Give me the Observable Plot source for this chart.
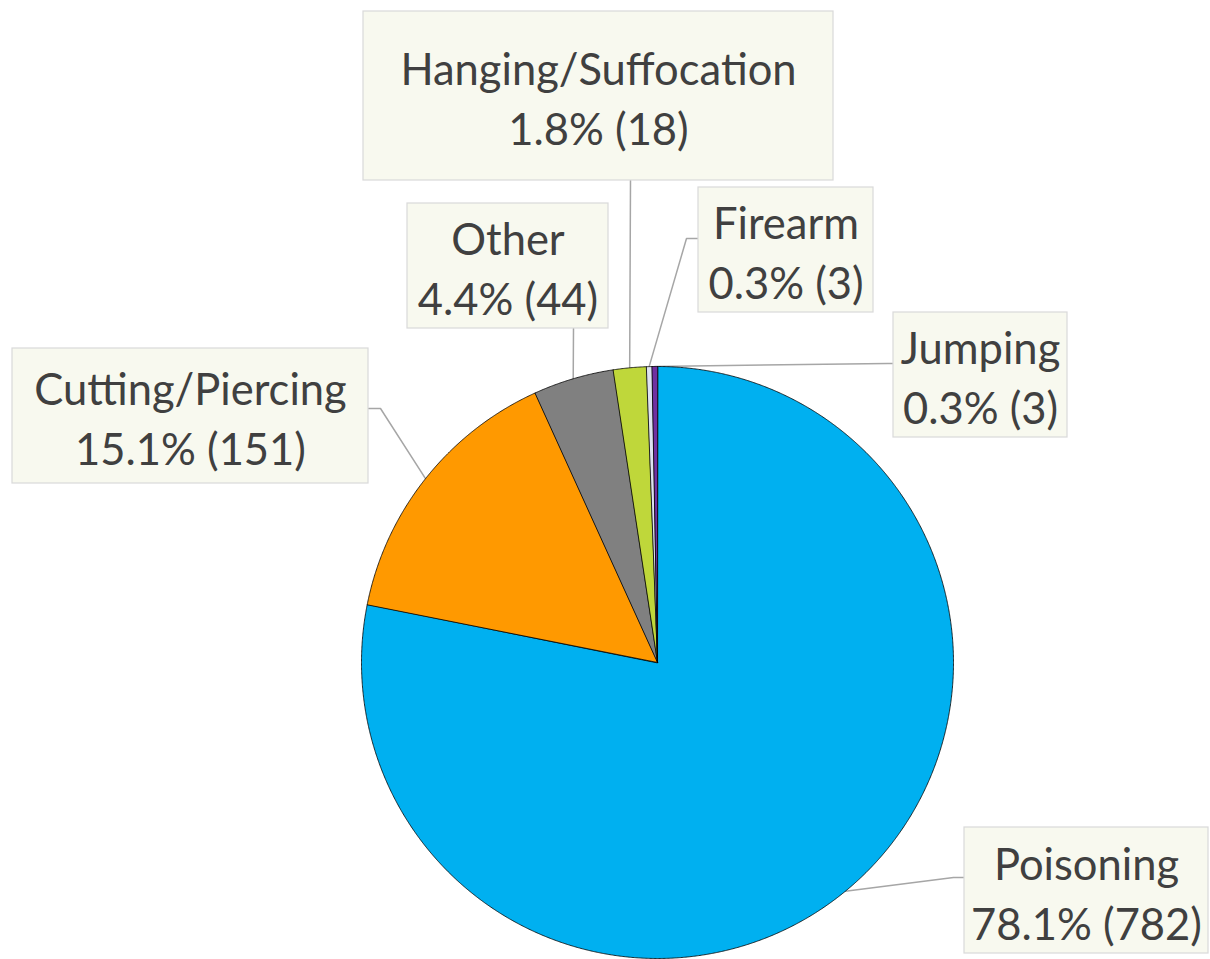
<!DOCTYPE html>
<html>
<head>
<meta charset="utf-8">
<script src="https://cdn.jsdelivr.net/npm/d3@7"></script>
<script src="https://cdn.jsdelivr.net/npm/@observablehq/plot@0.6"></script>
<style>
  html, body { margin: 0; padding: 0; background: #ffffff; }
  #chart { width: 1210px; height: 959px; }
</style>
</head>
<body>
<div id="chart"></div>
<script>
// ---- data ----
const categories = ["Poisoning", "Cutting/Piercing", "Other", "Hanging/Suffocation", "Firearm", "Jumping"];
const counts = [782, 151, 44, 18, 3, 3];
const colors = ["#00B0F0", "#FF9900", "#808080", "#BFD73A", "#DDE2F0", "#7030A0"];

// ---- layout (pixels) ----
const W = 1210, H = 959;
const CX = 657, CY = 662, R = 296;
// label boxes [left, top, right, bottom]; leader path from box edge via knee to slice
const boxes = {
  "Poisoning":           {box: [964, 827, 1208, 953], edge: [964, 877], knee: [953, 877]},
  "Cutting/Piercing":    {box: [12, 348, 368, 483],   edge: [368, 408], knee: [380, 408]},
  "Other":               {box: [407, 203, 608, 328],  edge: [573, 328], knee: [573, 328]},
  "Hanging/Suffocation": {box: [363, 11, 833, 180],   edge: [630, 180], knee: [630, 180]},
  "Firearm":             {box: [698, 187, 873, 312],  edge: [698, 238], knee: [686, 238]},
  "Jumping":             {box: [893, 312, 1067, 437], edge: [893, 363], knee: [887, 363]}
};
const FONT = 43.5;

// pixel -> data units (radius = 1, y up)
const ux = px => (px - CX) / R;
const uy = py => (CY - py) / R;

const total = d3.sum(counts);
const slices = [];
let acc = 0;
categories.forEach((name, i) => {
  const a0 = acc / total * 2 * Math.PI;
  acc += counts[i];
  const a1 = acc / total * 2 * Math.PI;
  slices.push({name, value: counts[i], a0, a1, mid: (a0 + a1) / 2});
});

// slice polygons
const poly = [];
for (const s of slices) {
  poly.push({name: s.name, x: 0, y: 0});
  const n = Math.max(2, Math.ceil((s.a1 - s.a0) / (Math.PI / 720)));
  for (let k = 0; k <= n; k++) {
    const a = s.a0 + (s.a1 - s.a0) * k / n;
    poly.push({name: s.name, x: Math.sin(a), y: Math.cos(a)});
  }
}

// leaders
const leaders = [];
for (const s of slices) {
  const L = boxes[s.name];
  leaders.push({name: s.name, x: ux(L.edge[0]), y: uy(L.edge[1])});
  leaders.push({name: s.name, x: ux(L.knee[0]), y: uy(L.knee[1])});
  leaders.push({name: s.name, x: Math.sin(s.mid), y: Math.cos(s.mid)});
}

const rects = slices.map(s => {
  const b = boxes[s.name].box;
  return {name: s.name, x1: ux(b[0]), x2: ux(b[2]), y1: uy(b[1]), y2: uy(b[3])};
});
const labels = slices.map(s => {
  const b = boxes[s.name].box;
  const pct = (s.value / total * 100).toFixed(1);
  return {
    name: s.name,
    x: ux((b[0] + b[2]) / 2),
    y: uy((b[1] + b[3]) / 2),
    text: `${s.name}\n${pct}% (${s.value})`
  };
});

const chart = Plot.plot({
  width: W,
  height: H,
  margin: 0,
  style: {background: "#ffffff", overflow: "visible"},
  x: {domain: [ux(0), ux(W)], axis: null},
  y: {domain: [uy(H), uy(0)], axis: null},
  color: {domain: categories, range: colors},
  marks: [
    Plot.line(leaders, {x: "x", y: "y", z: "name", stroke: "#A6A6A6", strokeWidth: 1.5}),
    Plot.line(poly, {x: "x", y: "y", z: "name", fill: "name", stroke: "#000000", strokeWidth: 0.8, curve: "linear-closed"}),
    Plot.rect(rects, {x1: "x1", x2: "x2", y1: "y1", y2: "y2", fill: "#F8F9EF", stroke: "#D9D9D9", strokeWidth: 1.2}),
    Plot.text(labels, {x: "x", y: "y", text: "text", fontSize: FONT, lineHeight: 60 / FONT,
      fill: "#404040", fontFamily: "Lato", textAnchor: "middle"})
  ]
});
document.getElementById("chart").appendChild(chart);
</script>
</body>
</html>
